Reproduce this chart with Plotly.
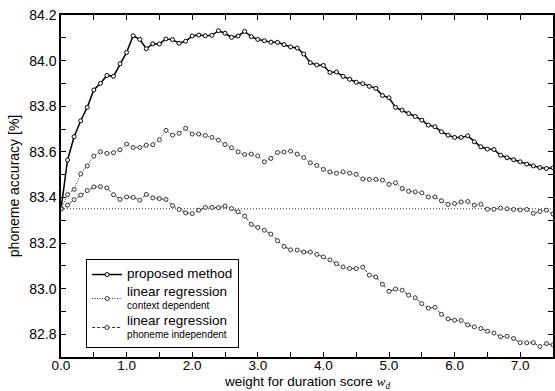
import plotly.graph_objects as go

# duration-score weight w_d (x axis)
weights = [0.0, 0.1, 0.2, 0.3, 0.4, 0.5, 0.6, 0.7, 0.8, 0.9,
           1.0, 1.1, 1.2, 1.3, 1.4, 1.5, 1.6, 1.7, 1.8, 1.9,
           2.0, 2.1, 2.2, 2.3, 2.4, 2.5, 2.6, 2.7, 2.8, 2.9,
           3.0, 3.1, 3.2, 3.3, 3.4, 3.5, 3.6, 3.7, 3.8, 3.9,
           4.0, 4.1, 4.2, 4.3, 4.4, 4.5, 4.6, 4.7, 4.8, 4.9,
           5.0, 5.1, 5.2, 5.3, 5.4, 5.5, 5.6, 5.7, 5.8, 5.9,
           6.0, 6.1, 6.2, 6.3, 6.4, 6.5, 6.6, 6.7, 6.8, 6.9,
           7.0, 7.1, 7.2, 7.3, 7.4, 7.5]

# phoneme accuracy [%]
proposed = [83.350, 83.564, 83.666, 83.736, 83.795, 83.871, 83.900, 83.935, 83.931, 83.986,
            84.036, 84.109, 84.093, 84.052, 84.074, 84.073, 84.095, 84.092, 84.076, 84.085,
            84.108, 84.112, 84.109, 84.111, 84.131, 84.120, 84.102, 84.108, 84.128, 84.105,
            84.093, 84.087, 84.081, 84.080, 84.070, 84.060, 84.055, 84.029, 83.991, 83.981,
            83.979, 83.948, 83.950, 83.931, 83.918, 83.905, 83.899, 83.887, 83.878, 83.847,
            83.837, 83.795, 83.783, 83.768, 83.755, 83.739, 83.717, 83.710, 83.688, 83.673,
            83.663, 83.663, 83.670, 83.644, 83.622, 83.612, 83.610, 83.585, 83.574, 83.565,
            83.556, 83.546, 83.538, 83.531, 83.527, 83.530]

context_dependent = [83.350, 83.412, 83.435, 83.503, 83.538, 83.581, 83.600, 83.593, 83.596, 83.609,
                     83.634, 83.619, 83.619, 83.629, 83.631, 83.653, 83.694, 83.673, 83.681, 83.703,
                     83.678, 83.678, 83.672, 83.663, 83.651, 83.632, 83.618, 83.600, 83.588, 83.590,
                     83.582, 83.556, 83.571, 83.597, 83.599, 83.603, 83.590, 83.575, 83.552, 83.540,
                     83.523, 83.512, 83.506, 83.512, 83.506, 83.501, 83.481, 83.479, 83.479, 83.476,
                     83.457, 83.464, 83.439, 83.427, 83.424, 83.420, 83.402, 83.402, 83.385, 83.369,
                     83.373, 83.380, 83.382, 83.366, 83.370, 83.348, 83.348, 83.353, 83.350, 83.347,
                     83.345, 83.347, 83.330, 83.338, 83.344, 83.327]

phoneme_independent = [83.350, 83.366, 83.390, 83.410, 83.430, 83.446, 83.447, 83.442, 83.412, 83.391,
                       83.402, 83.400, 83.388, 83.413, 83.398, 83.395, 83.391, 83.364, 83.347, 83.332,
                       83.329, 83.344, 83.356, 83.356, 83.355, 83.362, 83.351, 83.337, 83.318, 83.282,
                       83.268, 83.256, 83.239, 83.210, 83.185, 83.170, 83.169, 83.160, 83.160, 83.150,
                       83.139, 83.126, 83.109, 83.095, 83.088, 83.088, 83.094, 83.059, 83.051, 83.019,
                       82.988, 82.998, 82.993, 82.971, 82.960, 82.934, 82.914, 82.918, 82.887, 82.867,
                       82.861, 82.860, 82.841, 82.832, 82.825, 82.813, 82.805, 82.789, 82.791, 82.781,
                       82.763, 82.762, 82.763, 82.746, 82.759, 82.753]

FONT = "Liberation Sans, Arial, Helvetica, sans-serif"
marker = dict(symbol="circle", size=4, color="white", line=dict(color="black", width=1))


def entry(main, sub=None):
    """Legend label: main text at 13.5px, optional smaller second line."""
    text = f"<span style='font-size:13.5px'>{main}</span>"
    if sub:
        text += f"<br>{sub}"
    return text


fig = go.Figure()

# baseline accuracy (w_d = 0)
fig.add_hline(y=proposed[0], line=dict(color="#333333", width=1, dash="1px,2px"), layer="below")

fig.add_trace(go.Scatter(
    x=weights, y=proposed, mode="lines+markers", name=entry("proposed method"),
    line=dict(color="black", width=1.5), marker=marker))
fig.add_trace(go.Scatter(
    x=weights, y=context_dependent, mode="lines+markers",
    name=entry("linear regression", "context dependent"),
    line=dict(color="#333333", width=1, dash="1px,1.5px"),
    marker=dict(marker, line=dict(color="#333333", width=1))))
fig.add_trace(go.Scatter(
    x=weights, y=phoneme_independent, mode="lines+markers",
    name=entry("linear regression", "phoneme independent"),
    line=dict(color="#333333", width=1, dash="3px,2px"),
    marker=dict(marker, line=dict(color="#333333", width=1))))

axis_common = dict(
    showline=True, linecolor="black", linewidth=1.5, mirror="ticks",
    ticks="inside", ticklen=5, tickwidth=1, tickcolor="black",
    showgrid=False, zeroline=False,
)

fig.update_xaxes(
    range=[0, 7.5], tick0=0, dtick=1.0, tickformat=".1f",
    minor=dict(ticks="inside", ticklen=5, tickcolor="black", dtick=0.5, tick0=0),
    ticklabelstandoff=-5,
    tickfont=dict(family=FONT, size=13.5, color="black"),
    automargin=False,
    **axis_common)
fig.update_yaxes(
    range=[82.7, 84.2], tick0=82.8, dtick=0.2, tickformat=".1f",
    minor=dict(ticks="inside", ticklen=5, tickcolor="black", dtick=0.1, tick0=82.7),
    tickfont=dict(family=FONT, size=14, color="black"),
    title=dict(text="phoneme accuracy [%]",
               font=dict(family=FONT, size=14, color="black"), standoff=6),
    automargin=False,
    **axis_common)

# x-axis title, placed below the tick labels
fig.add_annotation(
    xref="paper", yref="paper", x=0.5, y=-0.075, xanchor="center", yanchor="middle",
    text="weight for duration score "
         "<span style='font-family:Liberation Serif, Times New Roman, serif'><i>w<sub>d</sub></i></span>",
    showarrow=False, font=dict(family=FONT, size=13.5, color="black"))

fig.update_layout(
    width=555, height=391,
    margin=dict(l=61, r=2, t=15, b=34),
    paper_bgcolor="white", plot_bgcolor="white",
    font=dict(family=FONT, size=13, color="black"),
    legend=dict(
        x=0.051, y=0.2865, xanchor="left", yanchor="top",
        bgcolor="white", bordercolor="black", borderwidth=1,
        font=dict(family=FONT, size=10, color="black"),
        itemwidth=30, tracegroupgap=0,
    ),
    showlegend=True,
)

fig.write_html("out.html")
